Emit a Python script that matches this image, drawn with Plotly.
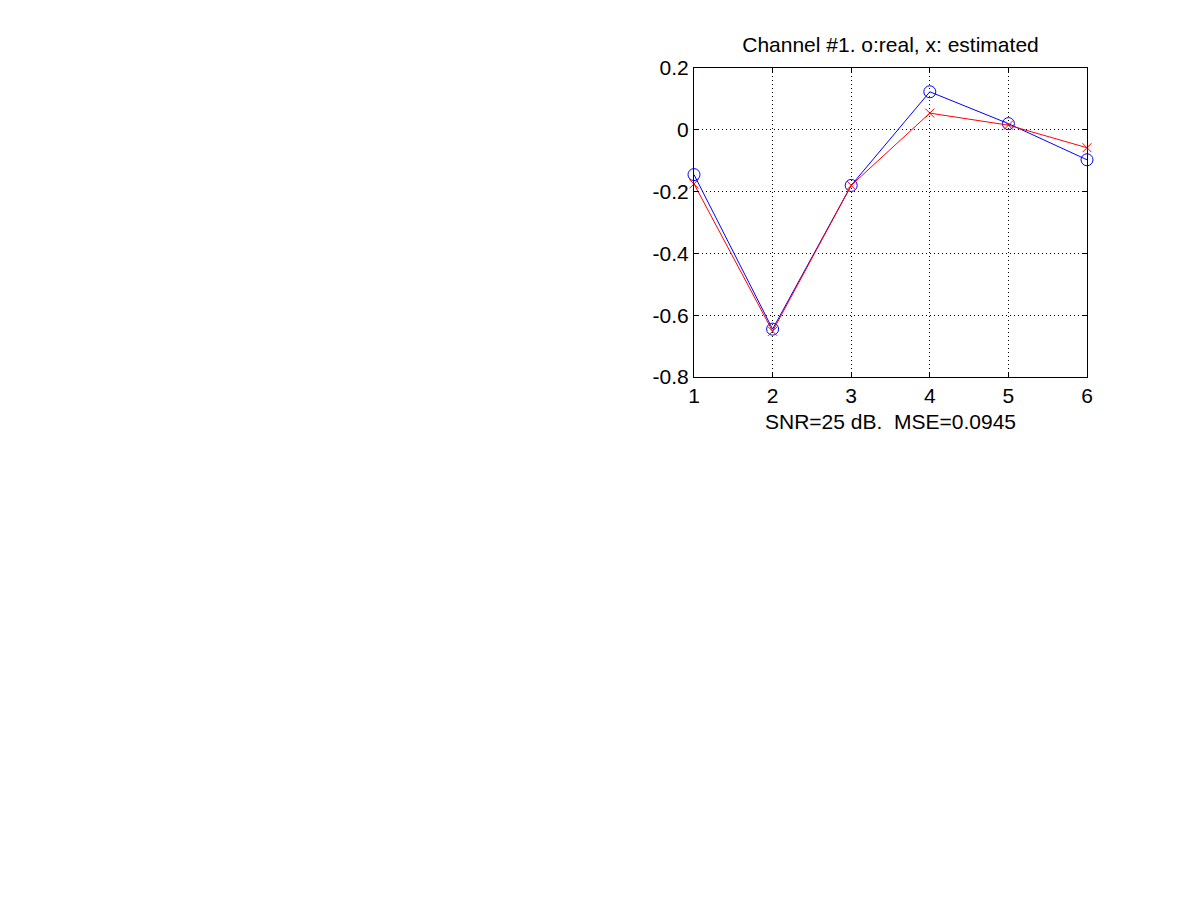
import plotly.graph_objects as go

taps = [1, 2, 3, 4, 5, 6]
real_vals = [-0.145, -0.645, -0.180, 0.123, 0.020, -0.097]
est_vals = [-0.175, -0.652, -0.180, 0.054, 0.015, -0.058]

y_tickvals = [0.2, 0.0, -0.2, -0.4, -0.6, -0.8]
y_ticktext = ["0.2", "0", "-0.2", "-0.4", "-0.6", "-0.8"]
x_tickvals = [1, 2, 3, 4, 5, 6]
x_ticktext = ["1", "2", "3", "4", "5", "6"]

title_text = "Channel #1. o:real, x: estimated"
xlabel_text = "SNR=25 dB.\u00a0 MSE=0.0945"

FONT = "Liberation Sans, Arial, Helvetica, sans-serif"
FS = 21

fig = go.Figure()
fig.add_trace(go.Scatter(
    x=taps, y=real_vals, mode="lines+markers",
    line=dict(color="rgb(0,0,255)", width=1),
    marker=dict(symbol="circle-open", size=12, color="rgb(0,0,255)", line=dict(width=1)),
    cliponaxis=False, showlegend=False,
))
fig.add_trace(go.Scatter(
    x=taps, y=est_vals, mode="lines+markers",
    line=dict(color="rgb(255,0,0)", width=1),
    marker=dict(symbol="x-thin-open", size=9, color="rgb(255,0,0)", line=dict(width=1, color="rgb(255,0,0)")),
    cliponaxis=False, showlegend=False,
))

W, H = 1201, 901
L, R, T, B = 694, 114, 68, 524

fig.update_layout(
    width=W, height=H,
    margin=dict(l=L, r=R, t=T, b=B, pad=0),
    paper_bgcolor="white", plot_bgcolor="white",
    font=dict(family=FONT, size=FS, color="black"),
    title=dict(text=title_text, x=(L + (W - L - R) / 2) / W, xanchor="center",
               xref="container", yref="container", y=1 - 45 / H, yanchor="middle",
               font=dict(size=FS, family=FONT, color="black")),
)
axis_common = dict(
    showgrid=True, gridcolor="black", griddash="1px,3px", gridwidth=1,
    showline=True, linecolor="black", linewidth=1, mirror="ticks",
    ticks="inside", ticklen=5, tickcolor="black", zeroline=False,
    tickfont=dict(size=FS, family=FONT, color="black"),
)
fig.update_xaxes(range=[1, 6], tickvals=x_tickvals, ticktext=x_ticktext, **axis_common)
fig.update_yaxes(range=[-0.8, 0.2], tickvals=y_tickvals, ticktext=y_ticktext, **axis_common)
fig.add_annotation(
    text=xlabel_text, xref="paper", yref="paper", x=0.5, y=0,
    xanchor="center", yanchor="middle", yshift=-44, showarrow=False,
    font=dict(size=FS, family=FONT, color="black"),
)

fig.write_html("out.html", config={"displayModeBar": False},
               post_script="document.body.style.margin='0';")
